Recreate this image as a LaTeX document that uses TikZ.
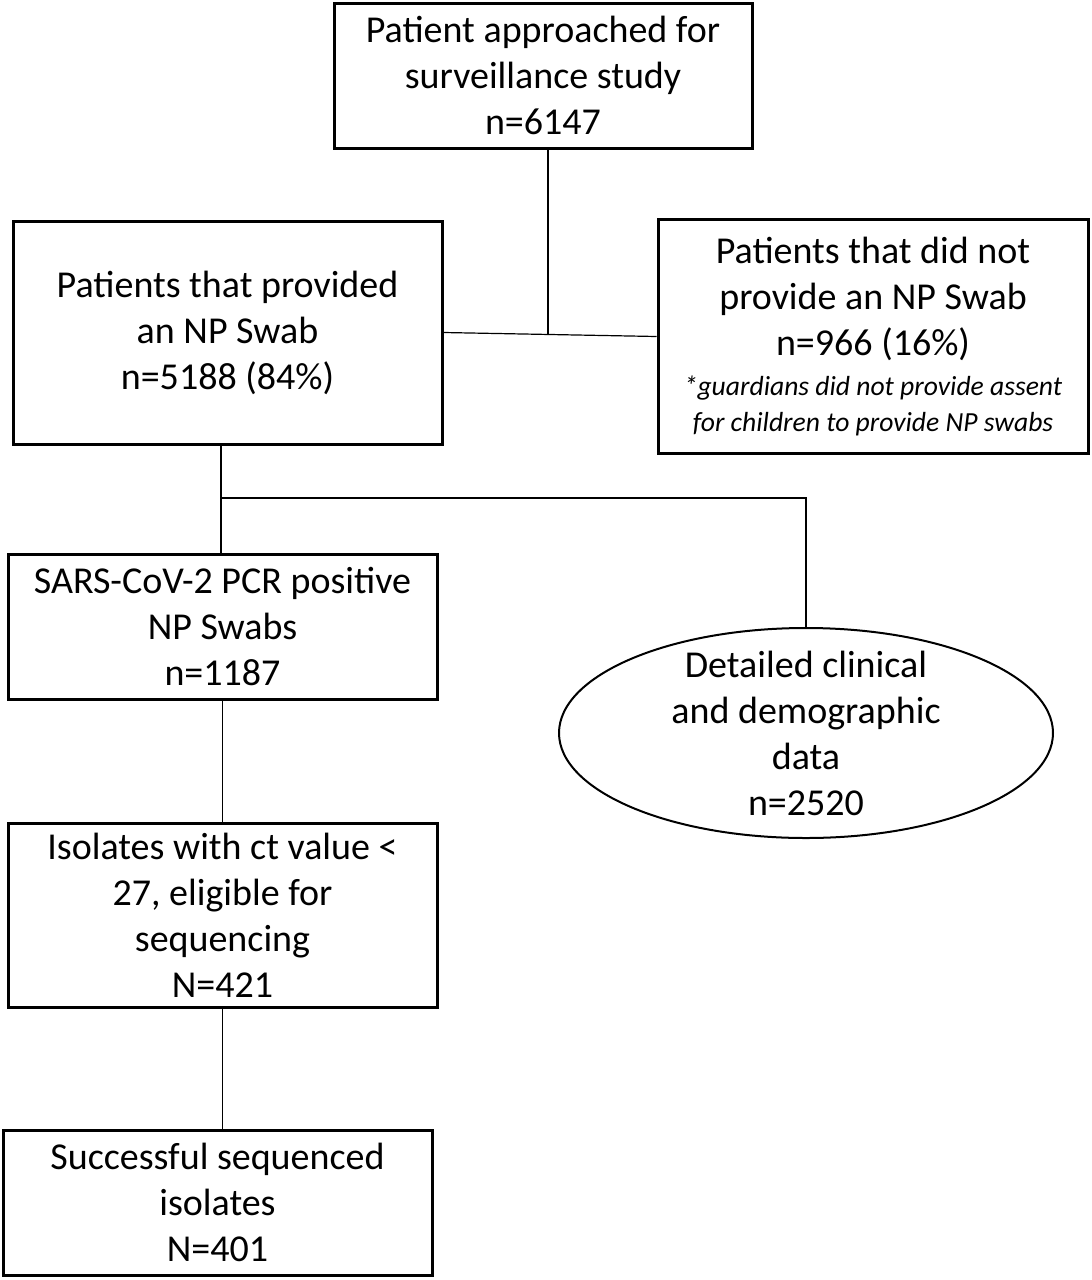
\documentclass[tikz,border=0pt]{standalone}
\usepackage{fontspec}
\setmainfont{Carlito}
\usetikzlibrary{shapes.geometric,positioning}

\begin{document}
\begin{tikzpicture}[x=0.5pt,y=-0.5pt]
\tikzstyle{stage} = [
	shape=rectangle,
	draw=black, %border of the box
	line width=1.5pt,
	align=center,
	inner sep=2pt,
	font=\fontsize{19pt}{23pt}\selectfont
];
\tikzstyle{oval} = [
	shape=ellipse,
	draw=black,
	line width=1pt,
	inner sep=0pt,
	minimum width=247pt,
	minimum height=105pt
];
\tikzstyle{link} = [line width=0.6pt, color=black];

\useasboundingbox (0,0) rectangle (1092,1280);

%boxes
\node[stage, minimum width=209pt, minimum height=72.5pt](approached) at (543,75.5)
	{Patient approached for\\ surveillance study\\ n=6147};
\node[stage, minimum width=214.5pt, minimum height=111.5pt](provided) at (227.5,332.5)
	{Patients that provided\\ an NP Swab\\ n=5188 (84\%)};
\node[stage, minimum width=215pt, minimum height=117pt](notprovided) at (873,336.5)
	{Patients that did not\\ provide an NP Swab\\ n=966 (16\%)\\[-3pt]
	{\fontsize{13.8pt}{17pt}\selectfont\itshape *guardians did not provide assent}\\[-5pt]
	{\fontsize{13.8pt}{17pt}\selectfont\itshape for children to provide NP swabs}};
\node[stage, minimum width=214.5pt, minimum height=72.5pt](positive) at (222.5,626.5)
	{SARS-CoV-2 PCR positive\\ NP Swabs\\ n=1187};
\node[oval](detailed) at (806,733) {};
\node[align=center, font=\fontsize{19pt}{23pt}\selectfont](detailedtext) at (detailed.center)
	{Detailed clinical\\ and demographic\\ data\\ n=2520};
\node[stage, minimum width=214.5pt, minimum height=92pt](eligible) at (222.5,915)
	{Isolates with ct value <\\ 27, eligible for\\ sequencing\\ N=421};
\node[stage, minimum width=214.5pt, minimum height=72.5pt](sequenced) at (217.5,1202.5)
	{Successful sequenced\\ isolates\\ N=401};

%junctions
\coordinate (split) at (548,335);
\coordinate (branch) at (221,498);

%connectors
\draw[link] (approached.south -| split) -- (split);
\draw[link] (provided.east) -- (notprovided.west);
\draw[link] (provided.south -| branch) -- (positive.north -| branch);
\draw[link] (branch) -| (detailed.north);
\draw[link] (positive.south) -- (eligible.north);
\draw[link] (eligible.south) -- (eligible.south |- sequenced.north);

\end{tikzpicture}
\end{document}
